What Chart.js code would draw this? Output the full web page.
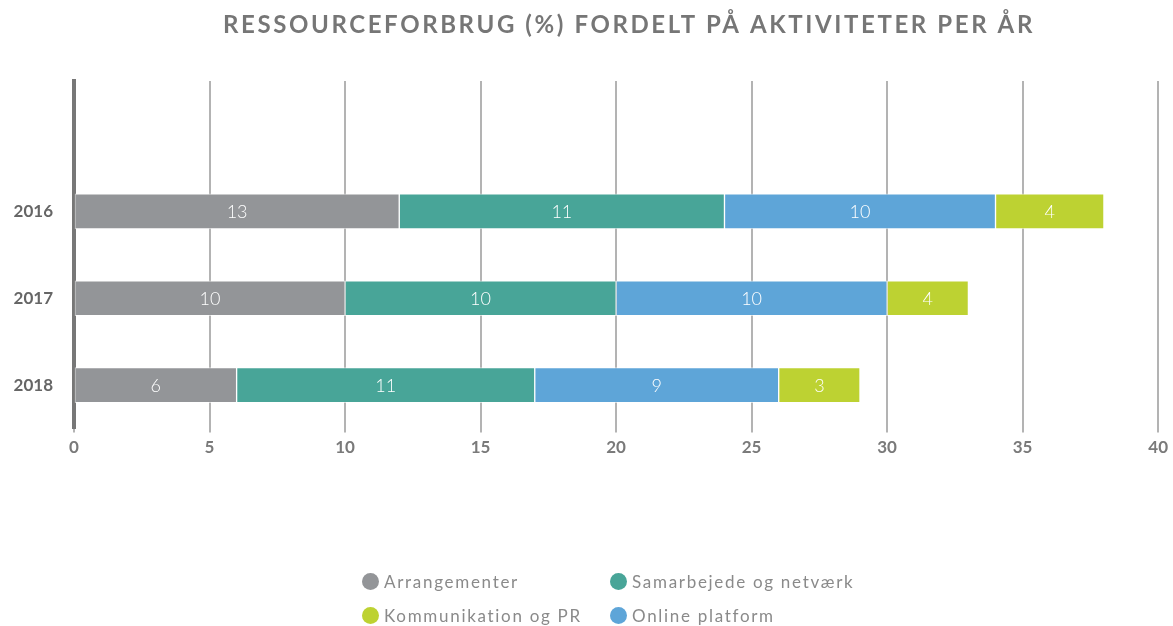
<!DOCTYPE html>
<html>
<head>
<meta charset="utf-8">
<script src="https://cdn.jsdelivr.net/npm/chart.js@4"></script>
<style>
  html, body { margin: 0; padding: 0; background: #fff; }
  #wrap { position: relative; width: 1173px; height: 626px; }
  #legend {
    position: absolute; left: 362px; top: 570px;
    display: grid; grid-template-columns: 248px 260px; row-gap: 12px;
    font-family: Lato, sans-serif; font-size: 17px; color: #8a8a8a; letter-spacing: 1.7px;
  }
  #legend .item { display: flex; align-items: center; height: 22px; }
  #legend .dot { width: 17px; height: 17px; border-radius: 50%; margin-right: 5px; }
</style>
</head>
<body>
<div id="wrap">
  <canvas id="chart" width="1173" height="626"></canvas>
  <div id="legend"></div>
</div>
<script>
const titleText = "RESSOURCEFORBRUG (%) FORDELT PÅ AKTIVITETER PER ÅR";
const categories = ["", "2016", "2017", "2018"];
const seriesNames = ["Arrangementer", "Samarbejede og netværk", "Online platform", "Kommunikation og PR"];
const arrangementer = [null, 12, 10, 6];
const samarbejde = [null, 12, 10, 11];
const online = [null, 10, 10, 9];
const kommunikation = [null, 4, 3, 3];
// numbers printed inside the bars
const arrangementerLabels = ["", "13", "10", "6"];
const samarbejdeLabels = ["", "11", "10", "11"];
const onlineLabels = ["", "10", "10", "9"];
const kommunikationLabels = ["", "4", "4", "3"];
const xTicks = [0, 5, 10, 15, 20, 25, 30, 35, 40];
const legendOrder = [0, 1, 3, 2];

const colors = ["#939598", "#48a598", "#5ea5d8", "#bdd232"];
const values = [arrangementer, samarbejde, online, kommunikation];
const barLabels = [arrangementerLabels, samarbejdeLabels, onlineLabels, kommunikationLabels];

const barText = {
  id: "barText",
  afterDatasetsDraw(chart) {
    const ctx = chart.ctx;
    ctx.save();
    ctx.fillStyle = "#ffffff";
    ctx.font = "300 18px Lato, sans-serif";
    ctx.textAlign = "center";
    ctx.textBaseline = "middle";
    chart.data.datasets.forEach((ds, i) => {
      chart.getDatasetMeta(i).data.forEach((bar, j) => {
        const txt = barLabels[i][j];
        if (!txt) return;
        const p = bar.getCenterPoint();
        ctx.fillText(txt, p.x, p.y + 1);
      });
    });
    ctx.restore();
  }
};

// title drawn by hand so it can get letter spacing
const spacedTitle = {
  id: "spacedTitle",
  afterDraw(chart) {
    const ctx = chart.ctx;
    ctx.save();
    ctx.fillStyle = "#767676";
    ctx.font = "bold 24px Lato, sans-serif";
    ctx.letterSpacing = "2.6px";
    ctx.textAlign = "center";
    ctx.textBaseline = "middle";
    ctx.fillText(titleText, 629, 25);
    ctx.restore();
  }
};

const chart = new Chart(document.getElementById("chart"), {
  type: "bar",
  data: {
    labels: categories,
    datasets: values.map((v, i) => ({
      label: seriesNames[i],
      data: v,
      backgroundColor: colors[i],
      borderColor: "rgba(255,255,255,0.6)",
      borderWidth: 1,
      borderSkipped: false,
      barThickness: 35
    }))
  },
  options: {
    indexAxis: "y",
    responsive: false,
    animation: false,
    layout: { padding: { left: 12, right: 14, top: 81, bottom: 163 } },
    scales: {
      x: {
        stacked: true,
        min: 0,
        max: 40,
        afterBuildTicks: (axis) => { axis.ticks = xTicks.map(v => ({ value: v })); },
        grid: { color: "#b3b3b3", lineWidth: 2, tickLength: 4, drawTicks: true },
        border: { display: false },
        ticks: { color: "#7a7a7a", font: { family: "Lato, sans-serif", size: 17, weight: "bold" }, padding: 5 }
      },
      y: {
        stacked: true,
        afterFit: (axis) => { axis.width = 62; },
        grid: { display: false, drawTicks: false },
        border: { display: true, color: "#777777", width: 4 },
        ticks: { color: "#666666", font: { family: "Lato, sans-serif", size: 17, weight: "bold" }, padding: 21 }
      }
    },
    plugins: {
      legend: { display: false },
      tooltip: { enabled: false },
      title: { display: false }
    }
  },
  plugins: [barText, spacedTitle]
});

const legend = document.getElementById("legend");
legendOrder.forEach(i => {
  const item = document.createElement("div");
  item.className = "item";
  item.innerHTML = `<span class="dot" style="background:${colors[i]}"></span>${seriesNames[i]}`;
  legend.appendChild(item);
});
</script>
</body>
</html>
